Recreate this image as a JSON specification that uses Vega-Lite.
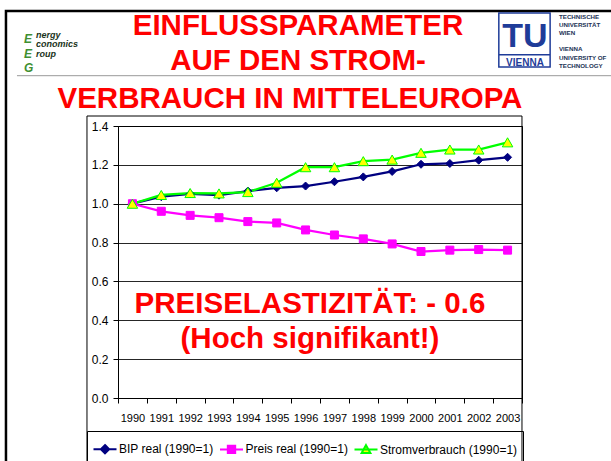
{
  "$schema": "https://vega.github.io/schema/vega-lite/v6.json",
  "width": 404,
  "height": 272,
  "autosize": {"type": "none"},
  "padding": {"left": 118, "top": 126, "right": 89, "bottom": 63},
  "background": "#ffffff",
  "config": {
    "view": {"stroke": "#000000", "strokeWidth": 1},
    "font": "Liberation Sans",
    "axis": {"labelFont": "Liberation Sans", "labelColor": "#000000", "domainColor": "#000000", "tickColor": "#000000", "tickSize": 5}
  },
  "data": {
    "values": [
      {"year": "1990", "series": "BIP real (1990=1)", "value": 1.0},
      {"year": "1991", "series": "BIP real (1990=1)", "value": 1.036},
      {"year": "1992", "series": "BIP real (1990=1)", "value": 1.051},
      {"year": "1993", "series": "BIP real (1990=1)", "value": 1.044},
      {"year": "1994", "series": "BIP real (1990=1)", "value": 1.065},
      {"year": "1995", "series": "BIP real (1990=1)", "value": 1.082},
      {"year": "1996", "series": "BIP real (1990=1)", "value": 1.091},
      {"year": "1997", "series": "BIP real (1990=1)", "value": 1.113},
      {"year": "1998", "series": "BIP real (1990=1)", "value": 1.138},
      {"year": "1999", "series": "BIP real (1990=1)", "value": 1.166},
      {"year": "2000", "series": "BIP real (1990=1)", "value": 1.203},
      {"year": "2001", "series": "BIP real (1990=1)", "value": 1.207},
      {"year": "2002", "series": "BIP real (1990=1)", "value": 1.224},
      {"year": "2003", "series": "BIP real (1990=1)", "value": 1.239},
      {"year": "1990", "series": "Preis real (1990=1)", "value": 1.0},
      {"year": "1991", "series": "Preis real (1990=1)", "value": 0.961},
      {"year": "1992", "series": "Preis real (1990=1)", "value": 0.94},
      {"year": "1993", "series": "Preis real (1990=1)", "value": 0.928},
      {"year": "1994", "series": "Preis real (1990=1)", "value": 0.908},
      {"year": "1995", "series": "Preis real (1990=1)", "value": 0.901},
      {"year": "1996", "series": "Preis real (1990=1)", "value": 0.865},
      {"year": "1997", "series": "Preis real (1990=1)", "value": 0.839},
      {"year": "1998", "series": "Preis real (1990=1)", "value": 0.819},
      {"year": "1999", "series": "Preis real (1990=1)", "value": 0.793},
      {"year": "2000", "series": "Preis real (1990=1)", "value": 0.754},
      {"year": "2001", "series": "Preis real (1990=1)", "value": 0.761},
      {"year": "2002", "series": "Preis real (1990=1)", "value": 0.764},
      {"year": "2003", "series": "Preis real (1990=1)", "value": 0.761},
      {"year": "1990", "series": "Stromverbrauch (1990=1)", "value": 1.0},
      {"year": "1991", "series": "Stromverbrauch (1990=1)", "value": 1.045},
      {"year": "1992", "series": "Stromverbrauch (1990=1)", "value": 1.055},
      {"year": "1993", "series": "Stromverbrauch (1990=1)", "value": 1.053},
      {"year": "1994", "series": "Stromverbrauch (1990=1)", "value": 1.06},
      {"year": "1995", "series": "Stromverbrauch (1990=1)", "value": 1.108},
      {"year": "1996", "series": "Stromverbrauch (1990=1)", "value": 1.188},
      {"year": "1997", "series": "Stromverbrauch (1990=1)", "value": 1.188},
      {"year": "1998", "series": "Stromverbrauch (1990=1)", "value": 1.219},
      {"year": "1999", "series": "Stromverbrauch (1990=1)", "value": 1.227},
      {"year": "2000", "series": "Stromverbrauch (1990=1)", "value": 1.262},
      {"year": "2001", "series": "Stromverbrauch (1990=1)", "value": 1.279},
      {"year": "2002", "series": "Stromverbrauch (1990=1)", "value": 1.279},
      {"year": "2003", "series": "Stromverbrauch (1990=1)", "value": 1.316}
    ]
  },
  "layer": [
    {
      "mark": {"type": "line", "strokeWidth": 2.25},
      "encoding": {
        "x": {"field": "year", "type": "ordinal", "bandPosition": 0.5,
              "scale": {"type": "band", "paddingInner": 0, "paddingOuter": 0},
              "axis": {"title": null, "labelAngle": 0, "tickBand": "extent", "labelFontSize": 11, "labelPadding": 9, "grid": false}},
        "y": {"field": "value", "type": "quantitative",
              "scale": {"domain": [0, 1.4], "nice": false, "zero": true},
              "axis": {"title": null, "values": [0, 0.2, 0.4, 0.6, 0.8, 1.0, 1.2, 1.4], "tickCount": 20, "labelOverlap": false, "format": ".1f", "labelFontSize": 12, "labelPadding": 5, "grid": true, "gridColor": "#000000", "gridOpacity": 0.85}},
        "color": {"field": "series", "type": "nominal",
                  "scale": {"domain": ["BIP real (1990=1)", "Preis real (1990=1)", "Stromverbrauch (1990=1)"], "range": ["#000080", "#FF00FF", "#00FF00"]},
                  "legend": {
                    "orient": "none", "legendX": -31, "legendY": 305, "direction": "horizontal", "title": null,
                    "strokeColor": "#000000", "padding": 5.5, "symbolSize": 529, "symbolStrokeWidth": 2,
                    "labelFontSize": 12, "labelFont": "Liberation Sans", "labelColor": "#000000", "labelOffset": 1.5, "columnPadding": 2.5, "labelLimit": 300,
                    "encode": {"symbols": {"update": {
                      "shape": {"signal": "datum.value === 'BIP real (1990=1)' ? 'M-1,0L1,0M0,-0.36L0.36,0L0,0.36L-0.36,0Z' : datum.value === 'Preis real (1990=1)' ? 'M-1,0L1,0M-0.32,-0.32L0.32,-0.32L0.32,0.32L-0.32,0.32Z' : 'M-1,0L1,0M0,-0.38L0.38,0.3L-0.38,0.3Z'"},
                      "fill": {"signal": "datum.value === 'BIP real (1990=1)' ? '#000080' : datum.value === 'Preis real (1990=1)' ? '#FF00FF' : '#FFFF00'"},
                      "fillOpacity": {"value": 1},
                      "opacity": {"value": 1}
                    }}}
                  }}
      }
    },
    {
      "transform": [{"filter": "datum.series === 'BIP real (1990=1)'"}],
      "mark": {"type": "point", "shape": "diamond", "size": 64, "filled": true, "fill": "#000080", "stroke": "#000080", "strokeWidth": 1, "opacity": 1},
      "encoding": {
        "x": {"field": "year", "type": "ordinal", "bandPosition": 0.5},
        "y": {"field": "value", "type": "quantitative"}
      }
    },
    {
      "transform": [{"filter": "datum.series === 'Preis real (1990=1)'"}],
      "mark": {"type": "point", "shape": "square", "size": 64, "filled": true, "fill": "#FF00FF", "stroke": "#FF00FF", "strokeWidth": 1, "opacity": 1},
      "encoding": {
        "x": {"field": "year", "type": "ordinal", "bandPosition": 0.5},
        "y": {"field": "value", "type": "quantitative"}
      }
    },
    {
      "transform": [{"filter": "datum.series === 'Stromverbrauch (1990=1)'"}],
      "mark": {"type": "point", "shape": "triangle-up", "size": 110, "filled": true, "fill": "#FFFF00", "stroke": "#00FF00", "strokeWidth": 1, "opacity": 1},
      "encoding": {
        "x": {"field": "year", "type": "ordinal", "bandPosition": 0.5},
        "y": {"field": "value", "type": "quantitative"}
      }
    },
    {
      "data": {"values": [{}]},
      "mark": {"type": "point", "shape": "M-1.498,0.85V-1.445H1.672", "size": 160000, "filled": false, "stroke": "#000000", "strokeWidth": 2.5, "opacity": 1},
      "encoding": {"x": {"datum": "1996", "bandPosition": 0.5}, "y": {"datum": 0.5044}}
    },
    {
      "data": {"values": [{}]},
      "mark": {"type": "point", "shape": "M-1.093,0.85V-0.92H1.082V0.85", "size": 160000, "filled": false, "stroke": "#000000", "strokeWidth": 1, "opacity": 1},
      "encoding": {"x": {"datum": "1996", "bandPosition": 0.5}, "y": {"datum": 0.5044}}
    },
    {
      "data": {"values": [{}]},
      "mark": {"type": "point", "shape": "M-1.443,-1.1215H1.672", "size": 160000, "filled": false, "stroke": "#999999", "strokeWidth": 1, "opacity": 1},
      "encoding": {"x": {"datum": "1996", "bandPosition": 0.5}, "y": {"datum": 0.5044}}
    },
    {
      "data": {"values": [{}]},
      "mark": {"type": "text", "font": "Liberation Sans", "fontWeight": "bold", "fontSize": 29.5, "color": "#FF0000", "align": "center", "baseline": "alphabetic", "dx": 4.4, "lineHeight": 35},
      "encoding": {"x": {"datum": "1996", "bandPosition": 0.5}, "y": {"datum": 0.436}, "text": {"value": ["PREISELASTIZITÄT: - 0.6", "(Hoch signifikant!)"]}}
    },
    {
      "data": {"values": [{}]},
      "mark": {"type": "text", "font": "Liberation Sans", "fontWeight": "bold", "fontSize": 29.5, "color": "#FF0000", "align": "center", "baseline": "alphabetic", "dx": -7.6, "lineHeight": 34.5},
      "encoding": {"x": {"datum": "1996", "bandPosition": 0.5}, "y": {"datum": 1.868}, "text": {"value": ["EINFLUSSPARAMETER", "AUF DEN STROM-"]}}
    },
    {
      "data": {"values": [{}]},
      "mark": {"type": "text", "font": "Liberation Sans", "fontWeight": "bold", "fontSize": 29.5, "color": "#FF0000", "align": "center", "baseline": "alphabetic", "dx": -15.6},
      "encoding": {"x": {"datum": "1996", "bandPosition": 0.5}, "y": {"datum": 1.491}, "text": {"value": "VERBRAUCH IN MITTELEUROPA"}}
    },
    {
      "data": {"values": [{}]},
      "mark": {"type": "point", "shape": "M-0.95,-1H0.95V1H-0.95ZM-0.95,0.55H0.95", "size": 2916, "filled": false, "stroke": "#1f3c99", "strokeWidth": 1.5, "opacity": 1, "xOffset": 16.9},
      "encoding": {"x": {"datum": "2003", "bandPosition": 0.5}, "y": {"datum": 1.843}}
    },
    {
      "data": {"values": [{}]},
      "mark": {"type": "text", "font": "Liberation Sans", "fontWeight": "bold", "fontSize": 34, "color": "#1f3c99", "align": "center", "baseline": "alphabetic", "dx": 17.4},
      "encoding": {"x": {"datum": "2003", "bandPosition": 0.5}, "y": {"datum": 1.807}, "text": {"value": "TU"}}
    },
    {
      "data": {"values": [{}]},
      "mark": {"type": "text", "font": "Liberation Sans", "fontWeight": "bold", "fontSize": 10, "color": "#1f3c99", "align": "center", "baseline": "alphabetic", "dx": 17.4},
      "encoding": {"x": {"datum": "2003", "bandPosition": 0.5}, "y": {"datum": 1.711}, "text": {"value": "VIENNA"}}
    },
    {
      "data": {"values": [{}]},
      "mark": {"type": "text", "font": "Liberation Sans", "fontWeight": "bold", "fontSize": 6.2, "color": "#223355", "align": "left", "baseline": "alphabetic", "dx": 51.4, "lineHeight": 8},
      "encoding": {"x": {"datum": "2003", "bandPosition": 0.5}, "y": {"datum": 1.951}, "text": {"value": ["TECHNISCHE", "UNIVERSITÄT", "WIEN"]}}
    },
    {
      "data": {"values": [{}]},
      "mark": {"type": "text", "font": "Liberation Sans", "fontWeight": "bold", "fontSize": 6.2, "color": "#223355", "align": "left", "baseline": "alphabetic", "dx": 51.4, "lineHeight": 8.5},
      "encoding": {"x": {"datum": "2003", "bandPosition": 0.5}, "y": {"datum": 1.786}, "text": {"value": ["VIENNA", "UNIVERSITY OF", "TECHNOLOGY"]}}
    },
    {
      "data": {"values": [{}]},
      "mark": {"type": "text", "font": "Liberation Sans", "fontWeight": "bold", "fontStyle": "italic", "fontSize": 12, "color": "#3f8f32", "align": "left", "baseline": "alphabetic", "dx": -108.4, "lineHeight": 14.5},
      "encoding": {"x": {"datum": "1990", "bandPosition": 0.5}, "y": {"datum": 1.827}, "text": {"value": ["E", "E", "G"]}}
    },
    {
      "data": {"values": [{}]},
      "mark": {"type": "text", "font": "Liberation Sans", "fontWeight": "bold", "fontStyle": "italic", "fontSize": 9, "color": "#1a331a", "align": "left", "baseline": "alphabetic", "dx": -96.4, "lineHeight": 9.5},
      "encoding": {"x": {"datum": "1990", "bandPosition": 0.5}, "y": {"datum": 1.853}, "text": {"value": ["nergy", "conomics", "roup"]}}
    }
  ]
}
